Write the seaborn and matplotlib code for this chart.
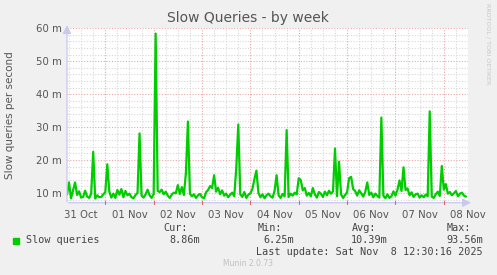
import numpy as np
import pandas as pd
import matplotlib
matplotlib.use("Agg")
import matplotlib.pyplot as plt
import seaborn as sns

# ---- data (slow queries per second, in milli-units, hourly samples) ----
start_time = "2025-10-30 17:00"
slow_queries = [
    9.5, 13.2, 8.4, 10.8, 13.2, 9.4, 10.5, 8.6, 8.8, 10.7, 8.9, 8.5,
    9.8, 22.5, 8.3, 9.3, 8.7, 8.8, 9.6, 10.2, 18.7, 10.4, 8.6, 9.8,
    8.5, 10.9, 9.5, 11.2, 8.7, 10.6, 9.3, 9.8, 8.7, 8.4, 9.4, 10.0,
    28.1, 9.2, 8.6, 9.6, 11.0, 9.3, 8.5, 9.7, 58.4, 10.6, 10.3, 11.0,
    9.6, 10.4, 9.2, 8.5, 9.5, 10.1, 9.9, 12.4, 9.7, 11.8, 9.4, 16.0,
    31.7, 9.8, 9.0, 9.6, 8.5, 9.3, 9.7, 8.7, 8.4, 10.2, 10.9, 12.1,
    11.5, 15.4, 10.4, 11.6, 9.6, 10.8, 9.2, 9.8, 8.7, 9.5, 10.1, 9.0,
    17.5, 30.8, 9.6, 8.8, 10.3, 8.5, 9.5, 9.9, 11.2, 14.2, 16.8, 10.0,
    8.7, 9.6, 8.4, 9.3, 9.8, 9.0, 8.6, 10.6, 15.4, 9.3, 8.5, 9.7,
    9.0, 29.1, 8.8, 9.8, 9.2, 10.1, 9.6, 14.5, 13.9, 10.8, 11.5, 9.2,
    10.0, 9.0, 11.5, 9.6, 8.6, 10.3, 9.8, 8.8, 10.4, 9.3, 10.7, 9.8,
    10.5, 23.5, 9.0, 19.5, 9.6, 8.5, 9.4, 10.2, 14.5, 14.9, 11.2, 10.6,
    9.2, 10.8, 9.9, 8.9, 10.3, 13.2, 9.4, 10.1, 8.7, 9.8, 9.1, 8.6,
    32.9, 9.2, 8.4, 9.6, 8.5, 9.0, 10.5, 9.2, 11.0, 13.8, 10.6, 17.8,
    10.9, 11.4, 9.3, 10.2, 8.8, 9.6, 9.8, 8.6, 9.3, 8.7, 9.5, 9.0,
    34.8, 8.9, 8.5, 9.6, 10.4, 9.1, 18.2, 11.0, 12.7, 9.8, 10.3, 9.3,
    9.9, 10.6, 9.0, 9.8, 10.1, 9.2, 8.9,
]
day_labels = ["31 Oct", "01 Nov", "02 Nov", "03 Nov", "04 Nov",
              "05 Nov", "06 Nov", "07 Nov", "08 Nov"]
y_ticks = [10, 20, 30, 40, 50, 60]
y_tick_labels = ["10 m", "20 m", "30 m", "40 m", "50 m", "60 m"]
legend_name = "Slow queries"
stats = {"Cur:": "8.86m", "Min:": "6.25m", "Avg:": "10.39m", "Max:": "93.56m"}

# ---- build frame ----
times = pd.date_range(start_time, periods=len(slow_queries), freq="h")
t0 = pd.Timestamp("2025-10-31 00:00")
days = (times - t0) / pd.Timedelta(days=1)
df = pd.DataFrame({"day": days, "value": slow_queries})

sns.set_style("white")
plt.rcParams["font.family"] = ["DejaVu Sans"]

W, H = 497, 275
fig = plt.figure(figsize=(W / 100, H / 100), dpi=100, facecolor="#F0F0F0")
left, right, top, bottom = 67, 468, 28.3, 202.7
ax = fig.add_axes([left / W, 1 - bottom / H, (right - left) / W, (bottom - top) / H])
ax.set_facecolor("white")

xmin, xmax = -7 / 24, 8.0
ymin, ymax = 7.05, 60.0

# grid: minor gray dotted, major red dotted
for yv in np.arange(8, 60, 2):
    if yv % 10 != 0:
        ax.axhline(yv, color="#D8D8D8", lw=0.8, ls=(0, (1, 1.5)), zorder=0)
for yv in y_ticks:
    ax.axhline(yv, color="#EBA8A8", lw=0.8, ls=(0, (1, 1.5)), zorder=0.5)
for xv in np.arange(-0.25, 8.01, 0.25):
    if abs((xv - 0.5) % 1) > 1e-6:
        ax.axvline(xv, color="#D8D8D8", lw=0.8, ls=(0, (1, 1.5)), zorder=0)
for xv in np.arange(0.5, 8, 1.0):
    ax.axvline(xv, color="#EBA8A8", lw=0.8, ls=(0, (1, 1.5)), zorder=0.5)

sns.lineplot(data=df, x="day", y="value", ax=ax, color="#00CC00",
             linewidth=1.6, legend=False, zorder=3)

ax.set_xlim(xmin, xmax)
ax.set_ylim(ymin, ymax)
for s in ax.spines.values():
    s.set_visible(False)

ax.set_yticks(y_ticks)
ax.set_yticklabels(y_tick_labels)
ax.set_xticks(range(len(day_labels)))
ax.set_xticklabels(day_labels)
ax.tick_params(axis="both", length=0, labelsize=7.3, colors="#555555", pad=4)
ax.tick_params(axis="x", pad=5)
ax.set_xlabel("")
ax.set_ylabel("")

# axes lines with arrows
axis_col = "#C8C8F0"
ax.annotate("", xy=(xmin, ymax + 1.8), xytext=(xmin, ymin - 0.6),
            arrowprops=dict(arrowstyle="-|>,head_width=0.25,head_length=0.5",
                            color=axis_col, lw=0.9), annotation_clip=False, zorder=4)
ax.annotate("", xy=(xmax + 0.12, ymin), xytext=(xmin - 0.03, ymin),
            arrowprops=dict(arrowstyle="-|>,head_width=0.25,head_length=0.5",
                            color=axis_col, lw=0.9), annotation_clip=False, zorder=4)
# red tick marks on x axis at major lines
for xv in np.arange(0.5, 8, 1.0):
    ax.plot([xv, xv], [ymin - 0.5, ymin + 0.5], color="#E06060", lw=0.8,
            clip_on=False, zorder=5)

# title and labels
fig.text(248 / W, 1 - 18 / H, "Slow Queries - by week", ha="center", va="center",
         fontsize=10, color="#555555")
fig.text(10 / W, 1 - 115 / H, "Slow queries per second", rotation=90,
         ha="center", va="center", fontsize=7.5, color="#555555")
fig.text(488 / W, 1 - 44 / H, "RRDTOOL / TOBI OETIKER", rotation=270,
         ha="center", va="center", fontsize=4.6, color="#C8C8C8")

mono = "DejaVu Sans Mono"
fs = 7.3
fig.patches.append(plt.Rectangle((13 / W, 1 - 243.5 / H), 6 / W, 6 / H,
                                 transform=fig.transFigure, color="#00CC00"))
fig.text(26 / W, 1 - 240 / H, legend_name, family=mono, fontsize=fs,
         color="#444444", va="center", ha="left")
head_x = [163, 258, 352, 447]
val_right = [200, 294, 388, 483]
for (k, v), hx, vr in zip(stats.items(), head_x, val_right):
    fig.text(hx / W, 1 - 228 / H, k, family=mono, fontsize=fs, color="#444444",
             va="center", ha="left")
    fig.text(vr / W, 1 - 240 / H, v, family=mono, fontsize=fs, color="#444444",
             va="center", ha="right")
fig.text(483 / W, 1 - 252 / H, "Last update: Sat Nov  8 12:30:16 2025", family=mono,
         fontsize=fs, color="#444444", va="center", ha="right")
fig.text(248 / W, 1 - 264 / H, "Munin 2.0.73", fontsize=5.5, color="#C0C0C0",
         ha="center", va="center")

fig.savefig("out.png", dpi=100, facecolor=fig.get_facecolor())
